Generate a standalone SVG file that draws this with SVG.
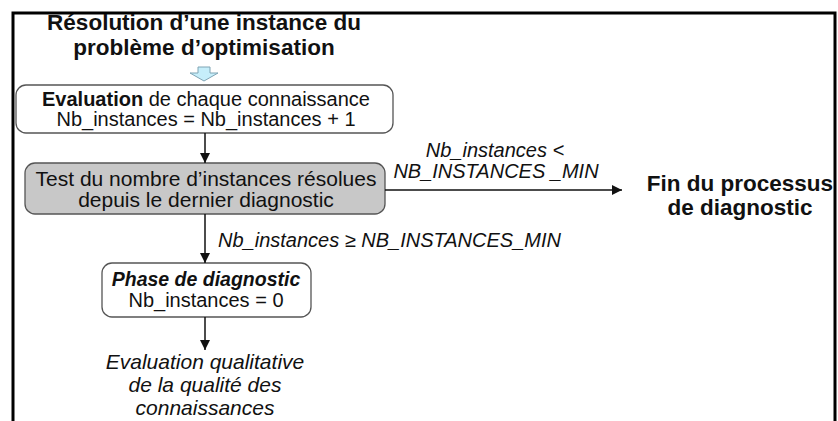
<svg xmlns="http://www.w3.org/2000/svg" width="838" height="421" viewBox="0 0 838 421">
<style>
  .t { font-family: "Liberation Sans", Arial, sans-serif; fill: #111; }
  .b { font-weight: bold; }
  .i { font-style: italic; }
  .box { fill: #fff; stroke: #555; stroke-width: 1.3; }
  .gray { fill: #c8c8c8; stroke: #555; stroke-width: 1.3; }
  .conn { stroke: #111; stroke-width: 1.5; fill: none; marker-end: url(#ah); }
</style>
<defs>
  <marker id="ah" viewBox="0 0 10 10" refX="10" refY="5" markerWidth="10" markerHeight="10" markerUnits="userSpaceOnUse" orient="auto">
    <path d="M0,0 L10,5 L0,10 z" fill="#111"/>
  </marker>
</defs>
<rect x="0" y="0" width="838" height="421" fill="#fff"/>
<rect id="frame" x="13" y="13" width="822" height="430" fill="none" stroke="#000" stroke-width="3"/>

<g id="title">
  <text class="t b" x="204" y="30" font-size="22.5" text-anchor="middle">Résolution d’une instance du</text>
  <text class="t b" x="204" y="55" font-size="22.5" text-anchor="middle">problème d’optimisation</text>
  <polygon points="198,67 210,67 210,73 218,73 204,81 190,73 198,73" fill="#c6eefa" stroke="#7fa4b4" stroke-width="1"/>
</g>

<g id="evaluation">
  <rect class="box" x="16" y="85" width="377" height="48" rx="10"/>
  <text class="t" x="206" y="106" font-size="20" text-anchor="middle"><tspan class="b">Evaluation</tspan> de chaque connaissance</text>
  <text class="t" x="206" y="126" font-size="20" text-anchor="middle">Nb_instances = Nb_instances + 1</text>
</g>

<g id="test">
  <rect class="gray" x="25" y="163" width="360" height="51" rx="10"/>
  <text class="t" x="206" y="186" font-size="21" text-anchor="middle">Test du nombre d’instances résolues</text>
  <text class="t" x="206" y="207" font-size="21" text-anchor="middle">depuis le dernier diagnostic</text>
</g>

<g id="diagnostic">
  <rect class="box" x="102" y="263" width="209" height="54" rx="10"/>
  <text class="t b i" x="206" y="286" font-size="19.5" text-anchor="middle">Phase de diagnostic</text>
  <text class="t" x="206" y="307" font-size="20" text-anchor="middle">Nb_instances = 0</text>
</g>

<g id="fin">
  <text class="t b" x="740" y="191" font-size="22.5" text-anchor="middle">Fin du processus</text>
  <text class="t b" x="740" y="215" font-size="22.5" text-anchor="middle">de diagnostic</text>
</g>

<g id="qualitative">
  <text class="t i" x="205" y="369" font-size="21" text-anchor="middle">Evaluation qualitative</text>
  <text class="t i" x="205" y="392" font-size="21" text-anchor="middle">de la qualité des</text>
  <text class="t i" x="205" y="415" font-size="21" text-anchor="middle">connaissances</text>
</g>

<g id="connectors">
  <line class="conn" x1="205" y1="133" x2="205" y2="163"/>
  <line class="conn" x1="385" y1="190" x2="622" y2="190"/>
  <line class="conn" x1="205" y1="214" x2="205" y2="263"/>
  <line class="conn" x1="205" y1="317" x2="205" y2="350"/>
  <text class="t i" x="495" y="157" font-size="20" text-anchor="middle">Nb_instances &lt;</text>
  <text class="t i" x="496" y="178" font-size="20" text-anchor="middle">NB_INSTANCES _MIN</text>
  <text class="t i" x="218" y="247" font-size="20">Nb_instances ≥ NB_INSTANCES_MIN</text>
</g>
</svg>
